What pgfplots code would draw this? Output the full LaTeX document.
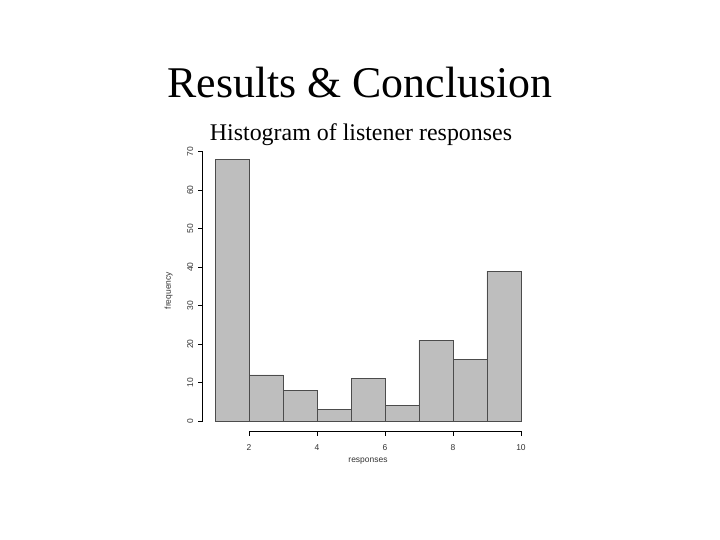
\documentclass[border=0pt]{standalone}
\usepackage{pgfplots}
\pgfplotsset{compat=1.18}
\usepackage{fontspec}
\setmainfont{Liberation Serif}
\newfontfamily\rsans{Liberation Sans}
\definecolor{barfill}{RGB}{190,190,190}
\begin{document}
\begin{tikzpicture}[x=1bp,y=1bp]
\path[fill=white] (0,0) rectangle (720,540);
\node[anchor=base,font=\fontsize{44}{48}\selectfont] at (360,442) {Results \& Conclusion};
\node[anchor=base,font=\fontsize{24}{28}\selectfont] at (361,399.3) {Histogram of listener responses};
\begin{axis}[
  at={(202.8bp,108.5bp)}, anchor=south west,
  scale only axis, width=330.4bp, height=282.5bp,
  xmin=0.64, xmax=10.36, ymin=-2.72, ymax=70.72,
  axis lines=none, clip=false,
]
\addplot[ybar interval, fill=barfill, draw=black!70, line width=0.6bp]
  coordinates {(1,68) (2,12) (3,8) (4,3) (5,11) (6,4) (7,21) (8,16) (9,39) (10,39)};
\draw[line width=1.6bp, black] ([xshift=-0.4bp]axis cs:0.64,0) -- ([xshift=-0.4bp]axis cs:0.64,70);
\pgfplotsinvokeforeach{0,10,20,30,40,50,60,70}{
  \draw[line width=0.8bp] (axis cs:0.64,#1) -- (axis cs:0.49,#1);
  \node[rotate=90,font=\rsans\fontsize{8.5}{9}\selectfont,text=black!80] at ([xshift=-12.5bp]axis cs:0.64,#1) {#1};
}
\draw[line width=0.8bp] (axis cs:2,-2.72) -- (axis cs:10,-2.72);
\pgfplotsinvokeforeach{2,4,6,8,10}{
  \draw[line width=0.8bp] (axis cs:#1,-2.72) -- (axis cs:#1,-4.02);
  \node[font=\rsans\fontsize{8.5}{9}\selectfont,text=black!80] at ([yshift=-16bp]axis cs:#1,-2.72) {#1};
}
\node[font=\rsans\fontsize{8.5}{9}\selectfont,text=black!80] at ([yshift=-30bp]axis cs:5.5,-2.72) {responses};
\node[rotate=90,font=\rsans\fontsize{8.5}{9}\selectfont,text=black!80] at ([xshift=-34bp]axis cs:0.64,33.9) {frequency};
\end{axis}
\end{tikzpicture}
\end{document}
